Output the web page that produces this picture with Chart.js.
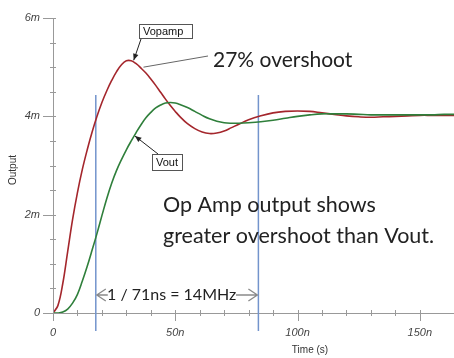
<!DOCTYPE html>
<html>
<head>
<meta charset="utf-8">
<script src="https://cdn.jsdelivr.net/npm/chart.js@4.4.1/dist/chart.umd.min.js"></script>
<style>
  html, body { margin: 0; padding: 0; background: #fff; }
  #chart { display: block; }
</style>
</head>
<body>
<canvas id="chart" width="454" height="358"></canvas>
<script>
// time axis in ns, outputs in mV (axis shows "m")
var timeNs = [0, 2, 4, 6, 8, 10, 12, 14, 16, 18, 20, 22, 24, 26, 28, 30, 32, 34, 36, 38,
  40, 42, 44, 46, 48, 50, 52, 55, 58, 61, 64, 67, 70, 73, 76, 80, 85, 90, 95, 100,
  105, 110, 115, 120, 125, 130, 135, 140, 145, 150, 155, 160, 164];
var vopamp = [0, 0.15, 0.6, 1.25, 1.9, 2.45, 2.92, 3.32, 3.68, 4.0, 4.28, 4.52, 4.73, 4.91, 5.05, 5.13, 5.13, 5.07, 4.98, 4.88,
  4.76, 4.63, 4.49, 4.35, 4.22, 4.1, 3.99, 3.85, 3.75, 3.68, 3.65, 3.66, 3.7, 3.77, 3.84, 3.93, 4.01, 4.07, 4.1, 4.11,
  4.1, 4.07, 4.04, 4.01, 3.99, 3.98, 3.99, 4.0, 4.01, 4.02, 4.02, 4.02, 4.02];
var vout = [0, 0.0, 0.02, 0.08, 0.2, 0.38, 0.65, 0.95, 1.28, 1.62, 1.98, 2.33, 2.64, 2.9, 3.12, 3.32, 3.5, 3.67, 3.83, 3.97,
  4.08, 4.17, 4.23, 4.27, 4.28, 4.27, 4.24, 4.18, 4.1, 4.02, 3.95, 3.9, 3.87, 3.86, 3.86, 3.87, 3.89, 3.92, 3.96, 4.0,
  4.03, 4.05, 4.05, 4.05, 4.04, 4.03, 4.03, 4.03, 4.03, 4.03, 4.03, 4.04, 4.04];
var markerNs = [17.5, 84];
var xLabels = { 0: '0', 50: '50n', 100: '100n', 150: '150n' };
var yLabels = { 0: '0', 2: '2m', 4: '4m', 6: '6m' };

function pts(ys) {
  return timeNs.map(function (t, i) { return { x: t, y: ys[i] }; });
}

function arrow(ctx, x1, y1, x2, y2, size) {
  var a = Math.atan2(y2 - y1, x2 - x1);
  ctx.beginPath();
  ctx.moveTo(x1, y1);
  ctx.lineTo(x2, y2);
  ctx.stroke();
  ctx.beginPath();
  ctx.moveTo(x2, y2);
  ctx.lineTo(x2 - size * Math.cos(a - 0.4), y2 - size * Math.sin(a - 0.4));
  ctx.lineTo(x2 - size * Math.cos(a + 0.4), y2 - size * Math.sin(a + 0.4));
  ctx.closePath();
  ctx.fill();
}

function chevron(ctx, x1, x2, y, dir) {
  // open arrow like "<-" or "->"
  ctx.beginPath();
  ctx.moveTo(x1, y);
  ctx.lineTo(x2, y);
  var tip = dir < 0 ? x1 : x2;
  ctx.moveTo(tip - dir * 9, y - 6);
  ctx.lineTo(tip, y);
  ctx.lineTo(tip - dir * 9, y + 6);
  ctx.stroke();
}

var annotations = {
  id: 'annotations',
  beforeDatasetsDraw: function (chart) {
    var ctx = chart.ctx, xs = chart.scales.x;
    ctx.save();
    ctx.strokeStyle = '#7394cc';
    ctx.lineWidth = 1.5;
    markerNs.forEach(function (t) {
      var x = xs.getPixelForValue(t);
      ctx.beginPath();
      ctx.moveTo(x, 95);
      ctx.lineTo(x, 331);
      ctx.stroke();
    });
    ctx.restore();
  },
  afterDraw: function (chart) {
    var ctx = chart.ctx, xs = chart.scales.x, ys = chart.scales.y;
    ctx.save();
    // axis ticks, long at labelled values
    ctx.strokeStyle = '#999';
    ctx.lineWidth = 1;
    xs.ticks.forEach(function (tk) {
      var x = Math.round(xs.getPixelForValue(tk.value)) + 0.5;
      var major = tk.value % 50 === 0;
      ctx.beginPath();
      ctx.moveTo(x, ys.bottom - 3);
      ctx.lineTo(x, ys.bottom + (major ? 8 : 3));
      ctx.stroke();
    });
    ys.ticks.forEach(function (tk) {
      var y = Math.round(ys.getPixelForValue(tk.value)) + 0.5;
      var major = tk.value % 2 === 0;
      ctx.beginPath();
      ctx.moveTo(xs.left - (major ? 10 : 3), y);
      ctx.lineTo(xs.left + 3, y);
      ctx.stroke();
    });

    // axis titles
    ctx.fillStyle = '#333';
    ctx.font = '10px "Liberation Sans", Arial, sans-serif';
    ctx.textAlign = 'center';
    ctx.textBaseline = 'middle';
    ctx.fillText('Time (s)', 310, 350);
    ctx.save();
    ctx.translate(13, 170);
    ctx.rotate(-Math.PI / 2);
    ctx.fillText('Output', 0, 0);
    ctx.restore();

    // Vopamp label
    ctx.strokeStyle = '#555';
    ctx.fillStyle = '#fff';
    ctx.lineWidth = 1;
    ctx.fillRect(139.5, 24.5, 53, 14);
    ctx.strokeRect(139.5, 24.5, 53, 14);
    ctx.fillStyle = '#111';
    ctx.font = '11px "Liberation Sans", Arial, sans-serif';
    ctx.textAlign = 'left';
    ctx.fillText('Vopamp', 143, 32);
    ctx.strokeStyle = '#222';
    ctx.fillStyle = '#222';
    arrow(ctx, 141, 39, xs.getPixelForValue(33), ys.getPixelForValue(5.14), 7);

    // Vout label
    ctx.strokeStyle = '#555';
    ctx.fillStyle = '#fff';
    ctx.fillRect(152.5, 154.5, 30, 16);
    ctx.strokeRect(152.5, 154.5, 30, 16);
    ctx.fillStyle = '#111';
    ctx.fillText('Vout', 156, 163);
    ctx.strokeStyle = '#222';
    ctx.fillStyle = '#222';
    arrow(ctx, 158, 154, xs.getPixelForValue(33.5), ys.getPixelForValue(3.6), 7);

    // overshoot leader + text
    ctx.strokeStyle = '#666';
    ctx.beginPath();
    ctx.moveTo(xs.getPixelForValue(37), ys.getPixelForValue(5.0));
    ctx.lineTo(208, 56);
    ctx.stroke();
    ctx.fillStyle = '#222';
    ctx.font = '21px Lato, "Open Sans", sans-serif';
    ctx.textBaseline = 'middle';
    ctx.fillText('27% overshoot', 213, 60);

    ctx.font = '21.5px Lato, "Open Sans", sans-serif';
    ctx.fillText('Op Amp output shows', 163, 205);
    ctx.fillText('greater overshoot than Vout.', 163, 236);

    // period annotation
    var xa = xs.getPixelForValue(markerNs[0]), xb = xs.getPixelForValue(markerNs[1]);
    ctx.font = '16px Lato, "Open Sans", sans-serif';
    ctx.fillText('1 / 71ns = 14MHz', 107, 295);
    ctx.strokeStyle = '#8a8a8a';
    ctx.lineWidth = 1.3;
    chevron(ctx, xa + 1, xa + 12, 295, -1);
    chevron(ctx, 236, xb - 1, 295, 1);
    ctx.restore();
  }
};

var config = {
  type: 'line',
  data: {
    datasets: [{
      label: 'Vout',
      data: pts(vout),
      borderColor: '#2f7f3b',
      borderWidth: 1.6,
      pointRadius: 0,
      tension: 0.4
    }, {
      label: 'Vopamp',
      data: pts(vopamp),
      borderColor: '#a4262c',
      borderWidth: 1.6,
      pointRadius: 0,
      tension: 0.4
    }]
  },
  options: {
    responsive: false,
    animation: false,
    events: [],
    layout: { padding: { top: 18, right: 0, left: 0, bottom: 0 } },
    plugins: { legend: { display: false }, tooltip: { enabled: false } },
    scales: {
      x: {
        type: 'linear',
        min: 0,
        max: 164,
        afterFit: function (s) { s.height = 45; s.paddingLeft = 0; s.paddingRight = 0; },
        grid: { display: false, drawTicks: false },
        border: { display: true, color: '#999' },
        ticks: {
          stepSize: 10,
          padding: 13,
          maxRotation: 0,
          autoSkip: false,
          color: '#444',
          font: { family: '"Liberation Sans", Arial, sans-serif', size: 11, style: 'italic' },
          callback: function (v) { return xLabels[v] !== undefined ? xLabels[v] : ''; }
        }
      },
      y: {
        min: 0,
        max: 6,
        afterFit: function (s) { s.width = 53; s.paddingTop = 0; s.paddingBottom = 0; },
        grid: { display: false, drawTicks: false },
        border: { display: true, color: '#999' },
        ticks: {
          stepSize: 0.5,
          padding: 13,
          autoSkip: false,
          color: '#444',
          font: { family: '"Liberation Sans", Arial, sans-serif', size: 11, style: 'italic' },
          callback: function (v) { return yLabels[v] !== undefined ? yLabels[v] : ''; }
        }
      }
    }
  },
  plugins: [annotations]
};

window.onload = function () {
  var ctx = document.getElementById('chart').getContext('2d');
  window.myChart = new Chart(ctx, config);
};
</script>
</body>
</html>
